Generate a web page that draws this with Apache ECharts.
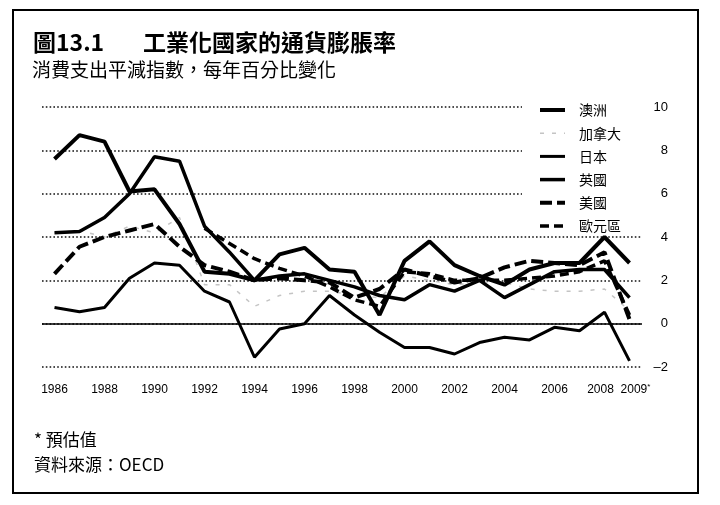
<!DOCTYPE html>
<html>
<head>
<meta charset="utf-8">
<script src="https://cdn.jsdelivr.net/npm/echarts@6/dist/echarts.min.js"></script>
<style>
  html, body { margin: 0; padding: 0; background: #fff; }
  #chart { width: 720px; height: 505px; }
</style>
</head>
<body>
<div id="chart"></div>
<script>
// 消費支出平減指數，每年百分比變化 (1986-2009, 2009 為預估值)
const years = ['1986','1987','1988','1989','1990','1991','1992','1993','1994','1995','1996','1997',
               '1998','1999','2000','2001','2002','2003','2004','2005','2006','2007','2008','2009'];

const australia = [7.6, 8.7, 8.4, 6.1, 6.2, 4.6, 2.4, 2.3, 2.0, 3.2, 3.5, 2.5,
                   2.4, 0.4, 2.9, 3.8, 2.7, 2.2, 1.8, 2.5, 2.8, 2.8, 4.0, 2.8];
const canada    = [4.2, 4.3, 4.0, 4.5, 4.2, 4.9, 1.8, 1.8, 0.8, 1.3, 1.5, 1.5,
                   1.3, 1.2, 2.2, 2.0, 1.8, 1.9, 1.9, 1.6, 1.5, 1.5, 1.6, 0.6];
const japan     = [0.75, 0.55, 0.75, 2.1, 2.8, 2.7, 1.5, 1.0, -1.55, -0.25, 0.0, 1.3,
                   0.4, -0.4, -1.1, -1.1, -1.4, -0.87, -0.63, -0.75, -0.17, -0.33, 0.53, -1.72];
const uk        = [4.2, 4.25, 4.9, 6.0, 7.7, 7.5, 4.5, 3.3, 2.0, 2.2, 2.3, 2.0,
                   1.7, 1.3, 1.1, 1.8, 1.5, 2.0, 1.2, 1.8, 2.4, 2.5, 2.5, 1.2];
const us        = [2.3, 3.55, 4.0, 4.3, 4.6, 3.55, 2.7, 2.4, 2.0, 2.1, 2.0, 1.9,
                   1.2, 1.6, 2.5, 2.2, 1.9, 2.1, 2.6, 2.9, 2.8, 2.7, 3.3, 0.2];
const euro      = [null, null, null, null, null, null, 4.4, 3.7, 3.0, 2.55, 2.2, 1.7,
                   1.1, 0.8, 2.4, 2.3, 2.0, 2.0, 2.0, 2.1, 2.2, 2.4, 2.9, 0.4];

const legendNames = ['澳洲', '加拿大', '日本', '英國', '美國', '歐元區'];
const yTicks = [-2, 0, 2, 4, 6, 8, 10];

const latin = '"Liberation Sans", Arial, sans-serif';
const cjk = '"Noto Sans CJK TC", "Noto Sans CJK SC", sans-serif';

const chart = echarts.init(document.getElementById('chart'));

function lineSeries(name, data, color, width, type) {
  return {
    name: name, type: 'line', data: data,
    symbol: 'none', showSymbol: false,
    color: color,
    itemStyle: { color: color },
    lineStyle: { color: color, width: width, type: type }
  };
}

const option = {
  backgroundColor: '#fff',
  animation: false,
  grid: { left: 42, right: 78, top: 107, height: 260 },
  legend: {
    data: legendNames,
    orient: 'vertical',
    left: 522,
    top: 99,
    itemWidth: 25,
    itemHeight: 14,
    itemGap: 9.2,
    padding: [4, 22, 2, 16],
    backgroundColor: '#fff',
    selectedMode: false,
    itemStyle: { opacity: 0 },
    lineStyle: { width: 'inherit', type: 'inherit' },
    textStyle: { fontFamily: cjk, fontSize: 14, color: '#000', lineHeight: 14, padding: [0, 0, 0, 9] }
  },
  xAxis: {
    type: 'category',
    data: years,
    boundaryGap: true,
    axisLine: { show: false },
    axisTick: { show: false },
    axisLabel: {
      interval: 0,
      hideOverlap: false,
      margin: 16,
      color: '#000',
      fontFamily: latin,
      fontSize: 12,
      lineHeight: 14,
      formatter: function (v, i) {
        if (v === '2009') return '{b|2009}{s|*}';
        if (v === '2008') return '{a|2008}';
        return i % 2 === 0 ? v : '';
      },
      rich: {
        a: { fontFamily: latin, fontSize: 12, lineHeight: 14, color: '#000', padding: [0, 8, 0, 0] },
        b: { fontFamily: latin, fontSize: 12, lineHeight: 14, color: '#000', padding: [0, 0, 0, 12] },
        s: { fontFamily: latin, fontSize: 8, lineHeight: 14, verticalAlign: 'top', color: '#000' }
      }
    }
  },
  yAxis: {
    type: 'value',
    position: 'right',
    min: yTicks[0],
    max: yTicks[yTicks.length - 1],
    interval: 2,
    axisLine: { show: false },
    axisTick: { show: false },
    axisLabel: {
      align: 'right',
      margin: 26,
      color: '#000',
      fontFamily: latin,
      fontSize: 13,
      formatter: function (v) { return v < 0 ? '\u2013' + Math.abs(v) : String(v); }
    },
    splitLine: { lineStyle: { color: '#111', width: 1.6, type: [1.6, 2.2] } }
  },
  series: [
    lineSeries('加拿大', canada, '#c4c4c4', 1.5, [4, 8]),
    Object.assign(lineSeries('日本', japan, '#000', 3, 'solid'), {
      markLine: {
        silent: true, symbol: 'none', label: { show: false },
        lineStyle: { color: '#000', width: 1.5, type: 'solid' },
        data: [{ yAxis: 0 }]
      }
    }),
    lineSeries('歐元區', euro, '#000', 3.5, [9, 5]),
    lineSeries('美國', us, '#000', 4, [12, 5]),
    lineSeries('英國', uk, '#000', 3.5, 'solid'),
    lineSeries('澳洲', australia, '#000', 4, 'solid')
  ],
  graphic: [
    { type: 'rect', shape: { x: 13, y: 10, width: 685, height: 483 },
      style: { fill: 'none', stroke: '#000', lineWidth: 2 } },
    { type: 'text', left: 33, top: 31,
      style: { text: '圖13.1', font: 'bold 23px ' + cjk, fill: '#000' } },
    { type: 'text', left: 143, top: 31,
      style: { text: '工業化國家的通貨膨脹率', font: 'bold 23px ' + cjk, fill: '#000' } },
    { type: 'text', left: 32, top: 60,
      style: { text: '消費支出平減指數，每年百分比變化', font: '19px ' + cjk, fill: '#000' } },
    { type: 'text', left: 34, top: 431,
      style: { text: '* 預估值', font: '17px ' + cjk, fill: '#000' } },
    { type: 'text', left: 34, top: 456,
      style: { text: '資料來源：OECD', font: '17px ' + cjk, fill: '#000' } }
  ]
};

chart.setOption(option);
</script>
</body>
</html>
